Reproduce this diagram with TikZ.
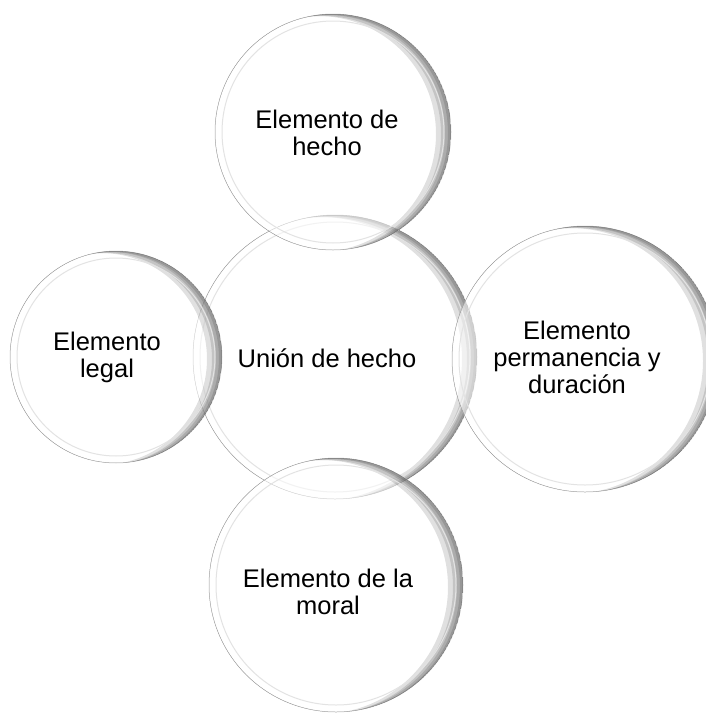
\documentclass[tikz,border=0pt]{standalone}
\usepackage{fontspec}
\setmainfont{Liberation Sans}

\tikzset{
	bubble/.style={fill=white, fill opacity=0.55, draw=gray!55, line width=0.5pt},
	rim/.style={fill=black, fill opacity=0.12, even odd rule},
	ring/.style={draw=gray!22, line width=1pt},
	label/.style={align=center, font=\fontsize{25.5}{27}\selectfont, text=black}
}

\begin{document}
\begin{tikzpicture}[x=1pt, y=-1pt]
		\fill[white] (0,0) rectangle (705,715);
		\useasboundingbox (0,0) rectangle (705,715);

		\begin{scope}[shift={(335,357)}]
			\filldraw[bubble] (0,0) circle (142pt);
			\begin{scope}
				\clip (0,0) circle (142pt);
				\fill[rim] (0,0) circle (142pt) (-3,1) circle (142pt);
				\fill[rim] (0,0) circle (142pt) (-6,1) circle (142pt);
				\fill[rim] (0,0) circle (142pt) (-10,2) circle (142pt);
				\fill[rim] (0,0) circle (142pt) (-15,2) circle (142pt);
			\end{scope}
			\draw[ring] (0,0) circle (135pt);
		\end{scope}

		\begin{scope}[shift={(333,132)}]
			\filldraw[bubble] (0,0) circle (118pt);
			\begin{scope}
				\clip (0,0) circle (118pt);
				\fill[rim] (0,0) circle (118pt) (-3,1) circle (118pt);
				\fill[rim] (0,0) circle (118pt) (-6,1) circle (118pt);
				\fill[rim] (0,0) circle (118pt) (-10,2) circle (118pt);
				\fill[rim] (0,0) circle (118pt) (-15,2) circle (118pt);
			\end{scope}
			\draw[ring] (0,0) circle (111pt);
		\end{scope}

		\begin{scope}[shift={(116,357)}]
			\filldraw[bubble] (0,0) circle (106pt);
			\begin{scope}
				\clip (0,0) circle (106pt);
				\fill[rim] (0,0) circle (106pt) (-3,1) circle (106pt);
				\fill[rim] (0,0) circle (106pt) (-6,1) circle (106pt);
				\fill[rim] (0,0) circle (106pt) (-10,2) circle (106pt);
				\fill[rim] (0,0) circle (106pt) (-15,2) circle (106pt);
			\end{scope}
			\draw[ring] (0,0) circle (99pt);
		\end{scope}

		\begin{scope}[shift={(585,359)}]
			\filldraw[bubble] (0,0) circle (133pt);
			\begin{scope}
				\clip (0,0) circle (133pt);
				\fill[rim] (0,0) circle (133pt) (-3,1) circle (133pt);
				\fill[rim] (0,0) circle (133pt) (-6,1) circle (133pt);
				\fill[rim] (0,0) circle (133pt) (-10,2) circle (133pt);
				\fill[rim] (0,0) circle (133pt) (-15,2) circle (133pt);
			\end{scope}
			\draw[ring] (0,0) circle (126pt);
		\end{scope}

		\begin{scope}[shift={(336,585)}]
			\filldraw[bubble] (0,0) circle (127pt);
			\begin{scope}
				\clip (0,0) circle (127pt);
				\fill[rim] (0,0) circle (127pt) (-3,1) circle (127pt);
				\fill[rim] (0,0) circle (127pt) (-6,1) circle (127pt);
				\fill[rim] (0,0) circle (127pt) (-10,2) circle (127pt);
				\fill[rim] (0,0) circle (127pt) (-15,2) circle (127pt);
			\end{scope}
			\draw[ring] (0,0) circle (120pt);
		\end{scope}

		\node[label] (union) at (327,358) {Unión de hecho};
		\node[label] (hecho) at (327,133) {Elemento de\\hecho};
		\node[label] (legal) at (107,357) {Elemento\\legal};
		\node[label] (duracion) at (577,357) {Elemento\\permanencia y\\duración};
		\node[label] (moral) at (328,592) {Elemento de la\\moral};
	\end{tikzpicture}
\end{document}
